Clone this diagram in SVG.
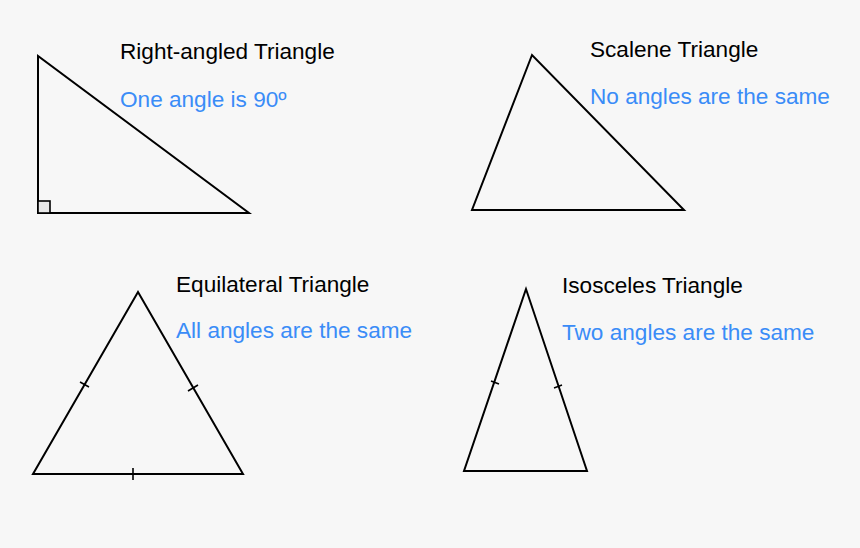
<svg xmlns="http://www.w3.org/2000/svg" width="860" height="548" viewBox="0 0 860 548">
<style>
.tri{fill:none;stroke:#000;stroke-width:2;stroke-linejoin:miter}
.tick{stroke:#000;stroke-width:1.6}
.title{font-family:"Liberation Sans",Arial,sans-serif;font-size:22.6px;fill:#000}
.desc{font-family:"Liberation Sans",Arial,sans-serif;font-size:22.6px;fill:#3a8cf7}
</style>
<rect width="860" height="548" fill="#f7f7f7"/>
<g id="right-angled">
<polygon class="tri" points="38,56 38,213 249,213"/>
<rect x="38" y="201" width="12" height="12" fill="#e8e8e8" stroke="#000" stroke-width="1.6"/>
<text class="title" x="120" y="59">Right-angled Triangle</text>
<text class="desc" x="120" y="107">One angle is 90º</text>
</g>
<g id="scalene">
<polygon class="tri" points="532,55 472,210 684,210"/>
<text class="title" x="590" y="57">Scalene Triangle</text>
<text class="desc" x="590" y="104">No angles are the same</text>
</g>
<g id="equilateral">
<polygon class="tri" points="138,292 33,474 243,474"/>
<line class="tick" x1="80" y1="382" x2="89" y2="387"/>
<line class="tick" x1="188" y1="391" x2="198" y2="385"/>
<line class="tick" x1="133" y1="468" x2="133" y2="480"/>
<text class="title" x="176" y="292">Equilateral Triangle</text>
<text class="desc" x="176" y="338">All angles are the same</text>
</g>
<g id="isosceles">
<polygon class="tri" points="526,289 464,471 587,471"/>
<line class="tick" x1="491" y1="381" x2="499" y2="384"/>
<line class="tick" x1="554" y1="388" x2="562" y2="385"/>
<text class="title" x="562" y="293">Isosceles Triangle</text>
<text class="desc" x="562" y="340">Two angles are the same</text>
</g>
<g id="connectors"></g>
</svg>
